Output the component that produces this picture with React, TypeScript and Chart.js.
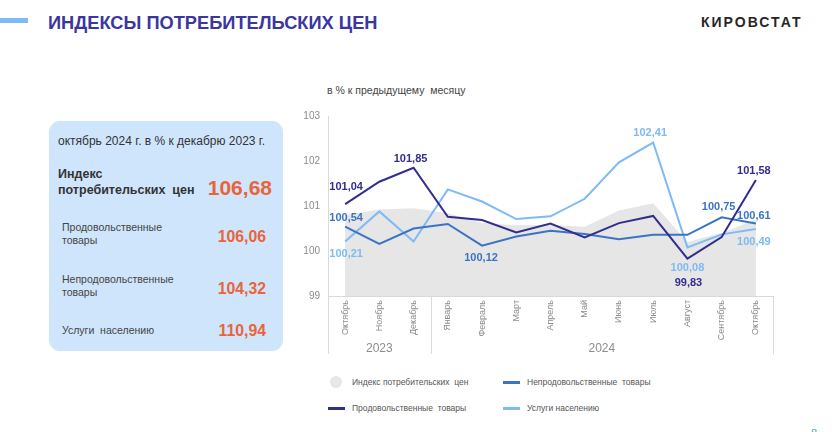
import React, { useEffect, useRef } from "react";
import { Chart, registerables } from "chart.js";

Chart.register(...registerables);

const months = ["Октябрь", "Ноябрь", "Декабрь", "Январь", "Февраль", "Март", "Апрель", "Май", "Июнь", "Июль", "Август", "Сентябрь", "Октябрь"];
const yearGroups = [
  { label: "2023", from: 0, to: 2 },
  { label: "2024", from: 3, to: 12 },
];
const cpiValues = [100.8, 100.92, 100.95, 100.84, 100.62, 100.57, 100.58, 100.54, 100.9, 101.06, 100.2, 100.4, 100.7];
const foodValues = [101.04, 101.54, 101.85, 100.76, 100.69, 100.41, 100.61, 100.3, 100.62, 100.78, 99.83, 100.31, 101.58];
const nonFoodValues = [100.54, 100.16, 100.5, 100.6, 100.12, 100.32, 100.45, 100.38, 100.26, 100.36, 100.36, 100.75, 100.61];
const servicesValues = [100.21, 100.88, 100.21, 101.37, 101.1, 100.71, 100.77, 101.16, 101.97, 102.41, 100.08, 100.37, 100.49];
const yTicks = [99, 100, 101, 102, 103];

const seriesNames = ["Индекс потребительских  цен", "Продовольственные  товары", "Непродовольственные  товары", "Услуги населению"];

const summaryRows = [
  { name: ["Продовольственные", "товары"], value: "106,06" },
  { name: ["Непродовольственные", "товары"], value: "104,32" },
  { name: ["Услуги  населению"], value: "110,94" },
];

const C_GRAY = "#e6e6e6";
const C_FOOD = "#322e8e";
const C_NONFOOD = "#3a74c6";
const C_SERV = "#7dbaf6";
const FONT = "'Liberation Sans', Arial, sans-serif";

// label annotations: dataset index, point index, offsets (styling)
const pointLabels = [
  { ds: 1, i: 0, dx: 1, dy: -17 },
  { ds: 1, i: 2, dx: -3, dy: -9 },
  { ds: 1, i: 10, dx: 1, dy: 24 },
  { ds: 1, i: 12, dx: -2, dy: -9 },
  { ds: 2, i: 0, dx: 1, dy: -9 },
  { ds: 2, i: 4, dx: -1, dy: 12 },
  { ds: 2, i: 11, dx: -3, dy: -10 },
  { ds: 2, i: 12, dx: -2, dy: -8 },
  { ds: 3, i: 0, dx: 1, dy: 12 },
  { ds: 3, i: 9, dx: -3, dy: -10 },
  { ds: 3, i: 10, dx: 0, dy: 21 },
  { ds: 3, i: 12, dx: -2, dy: 13 },
];

const fmt = (v: number) => v.toFixed(2).replace(".", ",");

const decorPlugin = {
  id: "decor",
  afterDatasetsDraw(chart: any) {
    const ctx = chart.ctx;
    ctx.save();
    ctx.font = `bold 11px ${FONT}`;
    ctx.textAlign = "center";
    ctx.textBaseline = "middle";
    pointLabels.forEach((p) => {
      const meta = chart.getDatasetMeta(p.ds);
      const pt = meta.data[p.i];
      const ds = chart.data.datasets[p.ds];
      ctx.fillStyle = ds.borderColor;
      ctx.fillText(fmt(ds.data[p.i]), pt.x + p.dx, pt.y + p.dy);
    });
    ctx.restore();
  },
  afterDraw(chart: any) {
    const ctx = chart.ctx;
    const xs = chart.scales.x;
    const bottom = chart.chartArea.bottom;
    const half = (xs.getPixelForValue(1) - xs.getPixelForValue(0)) / 2;
    ctx.save();
    ctx.strokeStyle = "#d9d9d9";
    ctx.lineWidth = 1;
    const edges: number[] = [];
    yearGroups.forEach((g) => {
      edges.push(xs.getPixelForValue(g.from) - half);
    });
    edges.push(xs.getPixelForValue(yearGroups[yearGroups.length - 1].to) + half);
    edges.forEach((x) => {
      const xx = Math.round(x) + 0.5;
      ctx.beginPath();
      ctx.moveTo(xx, bottom);
      ctx.lineTo(xx, bottom + 58);
      ctx.stroke();
    });
    ctx.fillStyle = "#8c8c8c";
    ctx.font = `12px ${FONT}`;
    ctx.textAlign = "center";
    ctx.textBaseline = "middle";
    yearGroups.forEach((g) => {
      const x1 = xs.getPixelForValue(g.from) - half;
      const x2 = xs.getPixelForValue(g.to) + half;
      ctx.fillText(g.label, (x1 + x2) / 2, bottom + 53);
    });
    ctx.restore();
  },
};

function CpiChart() {
  const ref = useRef<HTMLCanvasElement>(null);
  useEffect(() => {
    if (!ref.current) return;
    const chart = new Chart(ref.current, {
      type: "line",
      data: {
        labels: months,
        datasets: [
          {
            label: seriesNames[0],
            data: cpiValues,
            borderColor: C_GRAY,
            backgroundColor: C_GRAY,
            borderWidth: 0,
            fill: "start",
            pointRadius: 0,
            order: 5,
          },
          {
            label: seriesNames[1],
            data: foodValues,
            borderColor: C_FOOD,
            backgroundColor: C_FOOD,
            borderWidth: 2,
            fill: false,
            pointRadius: 0,
            order: 1,
          },
          {
            label: seriesNames[2],
            data: nonFoodValues,
            borderColor: C_NONFOOD,
            backgroundColor: C_NONFOOD,
            borderWidth: 2,
            fill: false,
            pointRadius: 0,
            order: 2,
          },
          {
            label: seriesNames[3],
            data: servicesValues,
            borderColor: C_SERV,
            backgroundColor: C_SERV,
            borderWidth: 2,
            fill: false,
            pointRadius: 0,
            order: 3,
          },
        ],
      },
      options: {
        animation: false,
        responsive: false,
        maintainAspectRatio: false,
        layout: { padding: { left: 8, right: 27, top: 16, bottom: 14 } },
        plugins: { legend: { display: false }, tooltip: { enabled: false } },
        scales: {
          x: {
            offset: true,
            grid: { display: false, drawTicks: false },
            border: { display: true, color: "#d9d9d9", width: 1 },
            ticks: {
              autoSkip: false,
              minRotation: 90,
              maxRotation: 90,
              padding: 4,
              color: "#8c8c8c",
              font: { family: FONT, size: 9 },
            },
            afterFit: (s: any) => {
              s.height = 60;
            },
          },
          y: {
            min: yTicks[0],
            max: yTicks[yTicks.length - 1],
            grid: { display: false, drawTicks: false },
            border: { display: true, color: "#d9d9d9", width: 1 },
            afterBuildTicks: (s: any) => {
              s.ticks = yTicks.map((v) => ({ value: v }));
            },
            ticks: {
              padding: 8,
              color: "#8c8c8c",
              font: { family: FONT, size: 10 },
              callback: (v: any) => String(v),
            },
            afterFit: (s: any) => {
              s.width = 40;
            },
          },
        },
      },
      plugins: [decorPlugin],
    });
    return () => chart.destroy();
  }, []);
  return <canvas ref={ref} width={520} height={270} style={{ position: "absolute", left: 280, top: 100, width: 520, height: 270 }} />;
}

const abs = (o: any) => ({ position: "absolute" as const, ...o });

export default function App() {
  useEffect(() => {
    document.body.style.margin = "0";
  }, []);
  const legendItems = [
    { kind: "circle", color: C_GRAY, text: seriesNames[0], x: 330, y: 382 },
    { kind: "line", color: C_NONFOOD, text: seriesNames[2], x: 503, y: 382 },
    { kind: "line", color: C_FOOD, text: seriesNames[1], x: 328, y: 408 },
    { kind: "line", color: C_SERV, text: seriesNames[3], x: 503, y: 408 },
  ];
  return (
    <div style={{ position: "relative", width: 832, height: 432, overflow: "hidden", background: "#fff", fontFamily: FONT }}>
      <div style={abs({ left: 0, top: 18, width: 28, height: 5, background: C_SERV })} />
      <div
        style={abs({
          left: 48,
          top: 12,
          fontSize: 19,
          fontWeight: "bold",
          color: "#3b36a0",
          whiteSpace: "nowrap",
          transform: "scaleX(0.96)",
          transformOrigin: "left center",
          lineHeight: "22px",
        })}
      >
        ИНДЕКСЫ ПОТРЕБИТЕЛЬСКИХ ЦЕН
      </div>
      <div style={abs({ left: 701, top: 14, fontSize: 14, fontWeight: "bold", color: "#262626", letterSpacing: 2, lineHeight: "16px" })}>КИРОВСТАТ</div>

      <div style={abs({ left: 49, top: 121, width: 234, height: 230, background: "#cfe5fc", borderRadius: 11 })} />
      <div style={abs({ left: 58, top: 134, fontSize: 12, color: "#333", whiteSpace: "nowrap", lineHeight: "15px" })}>
        октябрь 2024 г. в % к декабрю 2023 г.
      </div>
      <div style={abs({ left: 58, top: 166, fontSize: 12.5, fontWeight: "bold", color: "#333", lineHeight: "16px", whiteSpace: "pre" })}>
        {"Индекс\nпотребительских  цен"}
      </div>
      <div style={abs({ left: 180, width: 92, textAlign: "right", top: 176, fontSize: 21, fontWeight: "bold", color: "#e8643b", lineHeight: "24px" })}>106,68</div>
      {summaryRows.map((r, k) => {
        const ys = [237, 289, 331];
        const cy = ys[k];
        const lines = r.name.length;
        return (
          <React.Fragment key={k}>
            <div style={abs({ left: 62, top: cy - (lines === 2 ? 16 : 7), fontSize: 10.5, color: "#444", lineHeight: "13px", whiteSpace: "pre" })}>
              {r.name.join("\n")}
            </div>
            <div style={abs({ left: 190, width: 76, textAlign: "right", top: cy - 10, fontSize: 15.8, fontWeight: "bold", color: "#e8643b", lineHeight: "20px" })}>
              {r.value}
            </div>
          </React.Fragment>
        );
      })}

      <div style={abs({ left: 327, top: 83, fontSize: 10.5, color: "#444", whiteSpace: "pre", lineHeight: "14px" })}>в % к предыдущему  месяцу</div>

      <CpiChart />

      {legendItems.map((it, k) => (
        <React.Fragment key={k}>
          {it.kind === "circle" ? (
            <div style={abs({ left: it.x, top: it.y - 6, width: 12, height: 12, borderRadius: 6, background: it.color })} />
          ) : (
            <div style={abs({ left: it.x, top: it.y - 1, width: 17, height: 2.5, background: it.color })} />
          )}
          <div style={abs({ left: it.x + (it.kind === "circle" ? 22 : 24), top: it.y - 6, fontSize: 8.5, color: "#555", whiteSpace: "pre", lineHeight: "12px" })}>
            {it.text}
          </div>
        </React.Fragment>
      ))}
      <div style={abs({ left: 811, top: 427, fontSize: 11, color: "#5b9bd5", lineHeight: "13px" })}>8</div>
    </div>
  );
}
